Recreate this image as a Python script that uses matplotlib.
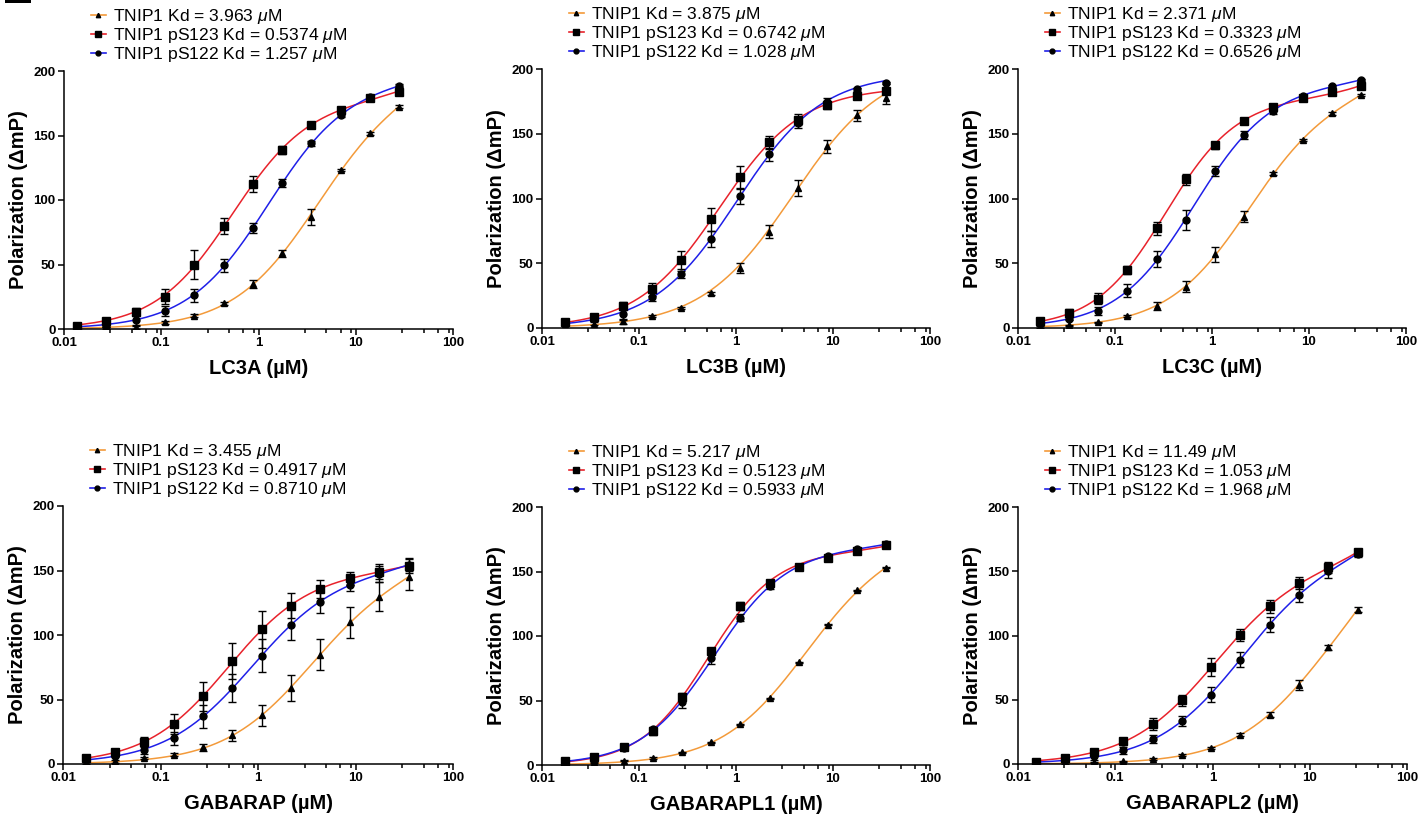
import numpy as np
import matplotlib
matplotlib.use("Agg")
import matplotlib.pyplot as plt
from matplotlib.lines import Line2D
from matplotlib.patches import Rectangle
from matplotlib.ticker import FixedLocator, NullFormatter

plt.rcParams['font.family'] = ['Liberation Sans', 'DejaVu Sans']
plt.rcParams['mathtext.fontset'] = 'custom'
plt.rcParams['mathtext.rm'] = 'Liberation Sans'
plt.rcParams['mathtext.it'] = 'Liberation Sans:italic'

# ---- data ----
names = ['LC3A', 'LC3B', 'LC3C', 'GABARAP', 'GABARAPL1', 'GABARAPL2']
top_conc = [28.0, 35.0, 34.4, 35.0, 35.5, 31.0]   # highest concentration, 2-fold dilutions
n_points = 12

kd_wt = [3.963, 3.875, 2.371, 3.455, 5.217, 11.49]
kd_s123 = [0.5374, 0.6742, 0.3323, 0.4917, 0.5123, 1.053]
kd_s122 = [1.257, 1.028, 0.6526, 0.8710, 0.5933, 1.968]
kd_wt_txt = ['3.963', '3.875', '2.371', '3.455', '5.217', '11.49']
kd_s123_txt = ['0.5374', '0.6742', '0.3323', '0.4917', '0.5123', '1.053']
kd_s122_txt = ['1.257', '1.028', '0.6526', '0.8710', '0.5933', '1.968']

# mean polarization, lowest -> highest concentration
wt = [
    [1, 0.8, 1.5, 5.2, 10.3, 19.9, 35.1, 58.6, 87, 123.4, 151.7, 172.4],
    [3, 3.3, 5.1, 9.3, 15.4, 26.8, 46.3, 74.4, 108, 140.5, 164.2, 177.9],
    [0.8, 2, 4.4, 9.3, 17, 32, 56.8, 86, 119.5, 145.3, 165.7, 180],
    [1.3, 2, 4.6, 7.2, 12.9, 22.2, 37.7, 58.8, 84.6, 109.7, 129.8, 144.8],
    [1, 2, 3.4, 5.4, 9.8, 17.5, 31.5, 51.6, 79.5, 108.9, 135.5, 153],
    [0.5, 0.8, 1.3, 2, 3.9, 7, 12.5, 22.8, 38.4, 61.7, 90.8, 120.1],
]
wt_sd = [
    [0.5, 0.5, 1.5, 1, 1, 1, 3, 2.5, 6, 1, 1, 1],
    [1, 1, 2, 1, 1, 1, 4, 5, 6, 5, 4, 5],
    [0.5, 0.5, 0.5, 1, 3, 4, 6, 4, 1, 1, 1, 1],
    [1, 1, 1, 1, 2.5, 4, 8, 10, 12, 12, 11, 10],
    [0.5, 0.5, 0.5, 0.5, 0.5, 0.5, 0.5, 0.5, 0.5, 0.5, 0.5, 0.5],
    [0.5, 0.5, 0.5, 0.5, 0.5, 0.5, 1, 1, 2, 4, 2, 2],
]
s123 = [
    [2, 6, 13.4, 25, 50, 80, 112.3, 138.6, 158, 169.8, 178.8, 184],
    [5, 8.5, 16.7, 29.9, 52.3, 83.9, 116.3, 143.6, 161, 172, 178.9, 183.3],
    [5.2, 11.9, 22.7, 44.9, 77.2, 114.8, 141, 159.5, 170.6, 177.5, 182.2, 186.6],
    [4.6, 9.3, 17, 31, 52.4, 80, 104.3, 122.8, 135.5, 144, 149.2, 153.8],
    [3, 6.5, 13.9, 26.3, 52.9, 88.5, 123.4, 141.4, 153.5, 160.8, 166, 170.3],
    [1.8, 4.7, 9.3, 17.6, 31.1, 49.5, 75.2, 100.4, 122.7, 140.9, 153, 164.7],
]
s123_sd = [
    [1, 1.5, 3, 6, 11, 6, 6, 3, 2, 1, 1, 1],
    [1, 1, 3, 5, 7, 9, 9, 5, 4, 3, 2, 1],
    [1, 3, 4, 3, 5, 4, 3, 1, 2, 2, 1, 1],
    [1, 2, 4, 8, 11, 14, 14, 10, 7, 5, 6, 6],
    [1, 1, 1, 3, 3, 2, 3, 2, 1, 2, 2, 1],
    [1, 1, 2, 3, 5, 4, 7, 5, 5, 5, 4, 2],
]
s122 = [
    [1, 2.6, 6.7, 13.7, 26.3, 49.3, 78.2, 113, 144, 165.7, 179.6, 188.6],
    [4, 7.7, 11, 23.9, 41.4, 68.7, 101.9, 134.1, 158.6, 174.5, 184.3, 189.2],
    [3.4, 7.2, 13.2, 28.6, 53.2, 83.4, 121.3, 149.2, 167.2, 178.8, 187, 191.5],
    [3.4, 6.5, 11.1, 20.1, 36.9, 59.1, 84.1, 107.9, 125.9, 138.8, 147.4, 154.3],
    [1, 5.7, 13.4, 27.6, 48.5, 82.6, 114.3, 138.6, 153.5, 161.8, 167.2, 171.4],
    [1.3, 3.4, 6, 10.6, 19.5, 33.7, 54, 81.2, 108.4, 131.8, 149.9, 163.4],
]
s122_sd = [
    [1, 1, 4, 4, 5, 5, 4, 3, 2, 1, 1, 1],
    [1, 1, 5, 3, 3, 6, 6, 5, 4, 3, 1, 1],
    [1, 1, 3, 5, 6, 8, 4, 3, 2, 1, 1, 1],
    [1, 1, 3, 5, 9, 11, 13, 12, 9, 5, 6, 5],
    [1, 1, 1, 1, 4, 4, 3, 2, 1, 1, 1, 1],
    [1, 1, 3, 3, 3, 4, 6, 6, 6, 6, 5, 2],
]

# axes boxes in pixels: left, top, right, bottom
boxes = [(64, 71, 453, 329), (542, 69, 930, 328), (1018, 69, 1406, 328),
         (63, 506, 453, 764), (542, 507, 930, 765), (1018, 507, 1407, 764)]

W, H = 1421, 819
fig = plt.figure(figsize=(W / 100, H / 100), dpi=100)

c_or = '#F39A3A'
c_red = '#E8222B'
c_blue = '#1F1FE8'


def fit_curve(x, y, kd):
    # specific binding (Kd fixed from the legend) + linear nonspecific term,
    # Bmax / NS by least squares, slope by grid search
    best = None
    for h in np.linspace(0.7, 2.0, 131):
        f = x ** h / (kd ** h + x ** h)
        A = np.column_stack([f, x])
        coef, *_ = np.linalg.lstsq(A, y, rcond=None)
        coef[1] = max(coef[1], 0.0)
        err = np.sum((A @ coef - y) ** 2)
        if best is None or err < best[0]:
            best = (err, coef[0], coef[1], h)
    return best[1:]


for i in range(6):
    l, t, r, b = boxes[i]
    ax = fig.add_axes([l / W, 1 - b / H, (r - l) / W, (b - t) / H])
    x = top_conc[i] / 2.0 ** np.arange(n_points - 1, -1, -1)
    xf = np.logspace(np.log10(x[0]), np.log10(x[-1]), 300)

    series = [
        (wt[i], wt_sd[i], kd_wt[i], c_or, '^', 4.5, 'TNIP1 Kd = %s $\\mu$M' % kd_wt_txt[i]),
        (s123[i], s123_sd[i], kd_s123[i], c_red, 's', 5.5, 'TNIP1 pS123 Kd = %s $\\mu$M' % kd_s123_txt[i]),
        (s122[i], s122_sd[i], kd_s122[i], c_blue, 'o', 5, 'TNIP1 pS122 Kd = %s $\\mu$M' % kd_s122_txt[i]),
    ]
    handles = []
    for y, sd, kd, col, mk, ms, lab in series:
        y = np.array(y, dtype=float)
        bm, ns, h = fit_curve(x, y, kd)
        ax.plot(xf, bm * xf ** h / (kd ** h + xf ** h) + ns * xf, color=col, lw=1.1, zorder=2)
        ax.errorbar(x, y, yerr=sd, fmt=mk, color='black', ms=ms, elinewidth=1,
                    capsize=3, capthick=1, zorder=3)
        handles.append(Line2D([], [], color=col, lw=1.2, marker=mk, mfc='black',
                              mec='black', ms=ms * 0.7, label=lab))

    ax.set_xscale('log')
    ax.set_xlim(0.01, 100)
    ax.set_ylim(0, 200)
    ax.set_xticks([0.01, 0.1, 1, 10, 100])
    ax.set_xticklabels(['0.01', '0.1', '1', '10', '100'])
    minors = [m * 10.0 ** e for e in range(-2, 2) for m in (3, 5, 7, 9)]
    ax.xaxis.set_minor_locator(FixedLocator(minors))
    ax.xaxis.set_minor_formatter(NullFormatter())
    ax.set_yticks([0, 50, 100, 150, 200])
    for s in ['top', 'right']:
        ax.spines[s].set_visible(False)
    for s in ['left', 'bottom']:
        ax.spines[s].set_linewidth(1.1)
    ax.tick_params(which='major', length=4, width=1.1, labelsize=9.5, pad=2)
    ax.tick_params(which='minor', length=3, width=1.1)
    for lbl in ax.get_xticklabels() + ax.get_yticklabels():
        lbl.set_fontweight('bold')
    ax.set_xlabel(names[i] + ' (\u00b5M)', fontsize=14.5, fontweight='bold', labelpad=7)
    ax.set_ylabel('Polarization (\u0394mP)', fontsize=14.5, fontweight='bold', labelpad=4)

    leg = fig.legend(handles=handles, loc='upper left',
                     bbox_to_anchor=((l + 27) / W, 1 - (t - 64) / H),
                     bbox_transform=fig.transFigure, frameon=False,
                     fontsize=12.6, handlelength=0.85, handletextpad=0.4,
                     labelspacing=0.0, borderpad=0, borderaxespad=0)

fig.patches.append(Rectangle((5 / W, 1 - 3 / H), 26 / W, 3 / H, transform=fig.transFigure,
                             facecolor='black', edgecolor='none'))

fig.savefig('out.png', dpi=100)
